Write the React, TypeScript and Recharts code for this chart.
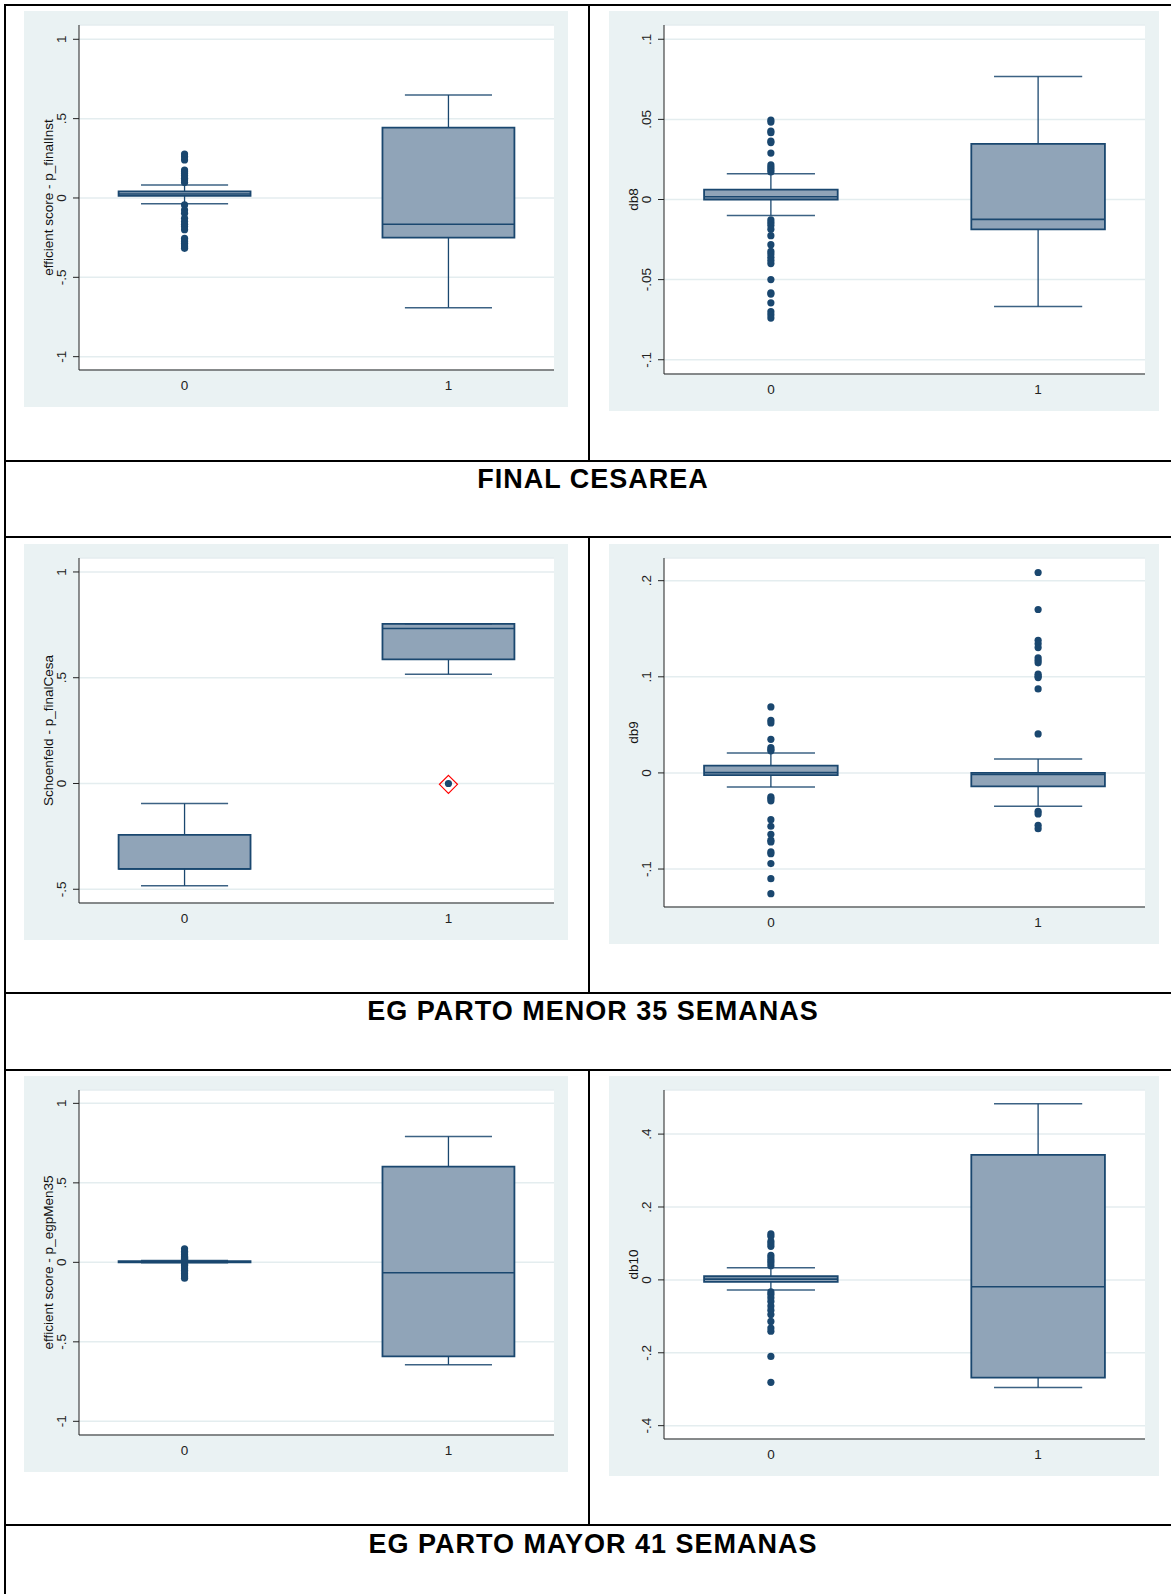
import React from "react";
import {
  ComposedChart,
  XAxis,
  YAxis,
  CartesianGrid,
  ReferenceArea,
  ReferenceLine,
  Scatter,
} from "recharts";

// two groups on every x axis
const groups = [0, 1];

// FINAL INST
const finalInstBoxes = [
  { lo: -0.036, q1: 0.013, med: 0.025, q3: 0.042, hi: 0.082 },
  { lo: -0.691, q1: -0.25, med: -0.166, q3: 0.443, hi: 0.649 },
];
const finalInstOut0 = [
  0.277, 0.26, 0.24, 0.176, 0.165, 0.155, 0.14, 0.125, 0.113, 0.097,
  -0.044, -0.076, -0.097, -0.128, -0.149, -0.165, -0.18, -0.2, -0.254,
  -0.265, -0.275, -0.285, -0.296, -0.307, -0.317,
];
const finalInstOut1: number[] = [];
const finalInstTicks = [-1, -0.5, 0, 0.5, 1];
const finalInstLabels = ["-1", "-.5", "0", ".5", "1"];

// db8
const db8Boxes = [
  { lo: -0.01, q1: 0.0, med: 0.0017, q3: 0.0062, hi: 0.016 },
  { lo: -0.0668, q1: -0.0187, med: -0.0124, q3: 0.0347, hi: 0.0768 },
];
const db8Out0 = [
  0.0496, 0.0483, 0.0427, 0.0417, 0.0365, 0.0355, 0.029, 0.0216, 0.02,
  0.0185, 0.0172, -0.0127, -0.0143, -0.016, -0.0185, -0.0226, -0.0282,
  -0.0324, -0.034, -0.036, -0.038, -0.04, -0.05, -0.0583, -0.059, -0.0645,
  -0.07, -0.072, -0.074,
];
const db8Out1: number[] = [];
const db8Ticks = [-0.1, -0.05, 0, 0.05, 0.1];
const db8Labels = ["-.1", "-.05", "0", ".05", ".1"];

// Schoenfeld - p_finalCesa
const cesaBoxes = [
  { lo: -0.484, q1: -0.404, med: -0.404, q3: -0.243, hi: -0.095 },
  { lo: 0.517, q1: 0.587, med: 0.733, q3: 0.755, hi: 0.755 },
];
const cesaOut0: number[] = [];
const cesaOut1 = [0.0];
const cesaMarked = [{ x: 1, y: -0.004 }];
const cesaTicks = [-0.5, 0, 0.5, 1];
const cesaLabels = ["-.5", "0", ".5", "1"];

// db9
const db9Boxes = [
  { lo: -0.0146, q1: -0.0024, med: 0.0003, q3: 0.0076, hi: 0.0208 },
  { lo: -0.0347, q1: -0.0139, med: -0.0017, q3: 0.0, hi: 0.0146 },
];
const db9Out0 = [
  0.0687, 0.0548, 0.052, 0.035, 0.0264, 0.0243, 0.023, -0.025, -0.0267,
  -0.029, -0.0486, -0.0555, -0.0638, -0.07, -0.0718, -0.0822, -0.084,
  -0.0943, -0.11, -0.1256,
];
const db9Out1 = [
  0.2085, 0.17, 0.138, 0.1344, 0.1304, 0.1197, 0.1172, 0.1145, 0.1027,
  0.1006, 0.0992, 0.0874, 0.0406, -0.04, -0.0427, -0.0545, -0.058,
];
const db9Ticks = [-0.1, 0, 0.1, 0.2];
const db9Labels = ["-.1", "0", ".1", ".2"];

// efficient score - p_egpMen35
const men35Boxes = [
  { lo: -0.003, q1: 0.0, med: 0.003, q3: 0.008, hi: 0.012 },
  { lo: -0.644, q1: -0.591, med: -0.065, q3: 0.602, hi: 0.792 },
];
const men35Out0 = [
  0.085, 0.07, 0.06, 0.05, 0.04, 0.035, 0.03, 0.025, 0.02, 0.015, -0.01,
  -0.015, -0.02, -0.03, -0.04, -0.05, -0.06, -0.07, -0.08, -0.09, -0.1,
];
const men35Out1: number[] = [];
const men35Ticks = [-1, -0.5, 0, 0.5, 1];
const men35Labels = ["-1", "-.5", "0", ".5", "1"];

// db10
const db10Boxes = [
  { lo: -0.028, q1: -0.0055, med: 0.002, q3: 0.01, hi: 0.033 },
  { lo: -0.295, q1: -0.268, med: -0.019, q3: 0.343, hi: 0.483 },
];
const db10Out0 = [
  0.126, 0.12, 0.106, 0.099, 0.092, 0.067, 0.06, 0.053, 0.047, 0.039,
  -0.033, -0.04, -0.049, -0.059, -0.072, -0.083, -0.095, -0.114, -0.132,
  -0.141, -0.21, -0.281,
];
const db10Out1: number[] = [];
const db10Ticks = [-0.4, -0.2, 0, 0.2, 0.4];
const db10Labels = ["-.4", "-.2", "0", ".2", ".4"];

const titles = [
  "FINAL CESAREA",
  "EG PARTO MENOR 35 SEMANAS",
  "EG PARTO MAYOR 41 SEMANAS",
];

const FONT = "'Liberation Sans', Arial, sans-serif";
const BG = "#eaf2f3";
const GRID = "#e4edef";
const NAVY = "#1a476f";
const BOXFILL = "#90a4b8";
const AXIS = "#222";

const panels = [
  { name: "efficient score - p_finalInst", boxes: finalInstBoxes, out: [finalInstOut0, finalInstOut1], ticks: finalInstTicks, labels: finalInstLabels, domain: [-1.084, 1.09], left: 24, top: 11, w: 544, h: 396 },
  { name: "db8", boxes: db8Boxes, out: [db8Out0, db8Out1], ticks: db8Ticks, labels: db8Labels, domain: [-0.1089, 0.1089], left: 609, top: 11, w: 550, h: 400 },
  { name: "Schoenfeld - p_finalCesa", boxes: cesaBoxes, out: [cesaOut0, cesaOut1], marked: cesaMarked, ticks: cesaTicks, labels: cesaLabels, domain: [-0.565, 1.066], left: 24, top: 544, w: 544, h: 396 },
  { name: "db9", boxes: db9Boxes, out: [db9Out0, db9Out1], ticks: db9Ticks, labels: db9Labels, domain: [-0.1395, 0.2236], left: 609, top: 544, w: 550, h: 400 },
  { name: "efficient score - p_egpMen35", boxes: men35Boxes, out: [men35Out0, men35Out1], ticks: men35Ticks, labels: men35Labels, domain: [-1.086, 1.084], left: 24, top: 1076, w: 544, h: 396 },
  { name: "db10", boxes: db10Boxes, out: [db10Out0, db10Out1], ticks: db10Ticks, labels: db10Labels, domain: [-0.4366, 0.521], left: 609, top: 1076, w: 550, h: 400 },
];

const BOX_HALF = 0.25;
const CAP_HALF = 0.165;

function BoxPanel({ p }: { p: any }) {
  const pts = p.out.flatMap((vals: number[], g: number) =>
    vals.map((v) => ({ x: groups[g], y: v }))
  );
  const tickLabel = (v: number) => p.labels[p.ticks.indexOf(v)] ?? String(v);

  return (
    <div style={{ position: "absolute", left: p.left, top: p.top }}>
      <ComposedChart
        width={p.w}
        height={p.h}
        margin={{ top: 14, right: 14, left: 0, bottom: 0 }}
        style={{ background: BG }}
      >
        <CartesianGrid
          vertical={false}
          stroke={GRID}
          strokeWidth={1.5}
          fill="#fff"
          fillOpacity={1}
        />
        <XAxis
          type="number"
          dataKey="x"
          domain={[-0.4, 1.4]}
          allowDataOverflow
          ticks={groups}
          tickLine={false}
          tickSize={0}
          tickMargin={10}
          height={37}
          stroke={AXIS}
          tick={{ fontSize: 13.5, fill: AXIS, fontFamily: FONT }}
        />
        <YAxis
          type="number"
          dataKey="y"
          domain={p.domain}
          allowDataOverflow
          ticks={p.ticks}
          width={55}
          tickSize={6}
          tickMargin={7}
          stroke={AXIS}
          tick={(t: any) => (
            <text
              x={t.x}
              y={t.y}
              transform={`rotate(-90 ${t.x} ${t.y})`}
              textAnchor="middle"
              fontSize={13.5}
              fill={AXIS}
              fontFamily={FONT}
            >
              {tickLabel(t.payload.value)}
            </text>
          )}
          label={(lp: any) => {
            const vb = lp.viewBox || { x: 0, y: 14, height: p.h - 51 };
            const x = vb.x + 29;
            const y = vb.y + vb.height / 2;
            return (
              <text
                x={x}
                y={y}
                transform={`rotate(-90 ${x} ${y})`}
                textAnchor="middle"
                fontSize={13.5}
                fill="#111"
                fontFamily={FONT}
              >
                {p.name}
              </text>
            );
          }}
        />
        {p.boxes.map((b: any, g: number) => (
          <ReferenceArea
            key={`box${g}`}
            x1={groups[g] - BOX_HALF}
            x2={groups[g] + BOX_HALF}
            y1={b.q1}
            y2={b.q3}
            fill={BOXFILL}
            fillOpacity={1}
            stroke={NAVY}
            strokeWidth={1.8}
            strokeOpacity={1}
          />
        ))}
        {p.boxes.map((b: any, g: number) => (
          <ReferenceLine
            key={`med${g}`}
            segment={[
              { x: groups[g] - BOX_HALF, y: b.med },
              { x: groups[g] + BOX_HALF, y: b.med },
            ]}
            stroke={NAVY}
            strokeWidth={1.6}
          />
        ))}
        {p.boxes.map((b: any, g: number) => (
          <ReferenceLine
            key={`wu${g}`}
            segment={[
              { x: groups[g], y: b.q3 },
              { x: groups[g], y: b.hi },
            ]}
            stroke={NAVY}
            strokeWidth={1.3}
          />
        ))}
        {p.boxes.map((b: any, g: number) => (
          <ReferenceLine
            key={`wl${g}`}
            segment={[
              { x: groups[g], y: b.lo },
              { x: groups[g], y: b.q1 },
            ]}
            stroke={NAVY}
            strokeWidth={1.3}
          />
        ))}
        {p.boxes.map((b: any, g: number) => (
          <ReferenceLine
            key={`cu${g}`}
            segment={[
              { x: groups[g] - CAP_HALF, y: b.hi },
              { x: groups[g] + CAP_HALF, y: b.hi },
            ]}
            stroke={NAVY}
            strokeWidth={1.5}
            strokeOpacity={0.85}
          />
        ))}
        {p.boxes.map((b: any, g: number) => (
          <ReferenceLine
            key={`cl${g}`}
            segment={[
              { x: groups[g] - CAP_HALF, y: b.lo },
              { x: groups[g] + CAP_HALF, y: b.lo },
            ]}
            stroke={NAVY}
            strokeWidth={1.5}
            strokeOpacity={0.85}
          />
        ))}
        <Scatter
          data={pts}
          dataKey="y"
          isAnimationActive={false}
          shape={(s: any) => <circle cx={s.cx} cy={s.cy} r={3.6} fill={NAVY} />}
        />
        {p.marked && (
          <Scatter
            data={p.marked}
            dataKey="y"
            isAnimationActive={false}
            shape={(s: any) => (
              <path
                d={`M${s.cx},${s.cy - 9} L${s.cx + 9},${s.cy} L${s.cx},${s.cy + 9} L${s.cx - 9},${s.cy} Z`}
                fill="none"
                stroke="#ff0000"
                strokeWidth={1.2}
              />
            )}
          />
        )}
      </ComposedChart>
    </div>
  );
}

// table frame: row separators and title baselines
const rowLines = [461, 537, 993, 1070, 1525];
const dividerSpans = [
  [5, 461],
  [537, 993],
  [1070, 1525],
];
const titleBaselines = [488, 1020, 1553];

export default function App() {
  return (
    <div
      style={{
        position: "absolute",
        left: 0,
        top: 0,
        width: 1171,
        height: 1594,
        background: "#fff",
        fontFamily: FONT,
        overflow: "hidden",
      }}
    >
      <svg width={1171} height={1594} style={{ position: "absolute", left: 0, top: 0 }}>
        <line x1={4} y1={5} x2={1171} y2={5} stroke="#000" strokeWidth={2} />
        <line x1={5} y1={4} x2={5} y2={1594} stroke="#000" strokeWidth={2} />
        {rowLines.map((y) => (
          <line key={y} x1={4} y1={y} x2={1171} y2={y} stroke="#000" strokeWidth={2} />
        ))}
        {dividerSpans.map(([a, b]) => (
          <line key={a} x1={589} y1={a} x2={589} y2={b} stroke="#000" strokeWidth={2} />
        ))}
        {titles.map((t, i) => (
          <text
            key={t}
            x={593}
            y={titleBaselines[i]}
            textAnchor="middle"
            fontSize={27}
            fontWeight="bold"
            letterSpacing={1}
            fontFamily={FONT}
            fill="#000"
          >
            {t}
          </text>
        ))}
      </svg>
      {panels.map((p) => (
        <BoxPanel key={p.name} p={p} />
      ))}
    </div>
  );
}
